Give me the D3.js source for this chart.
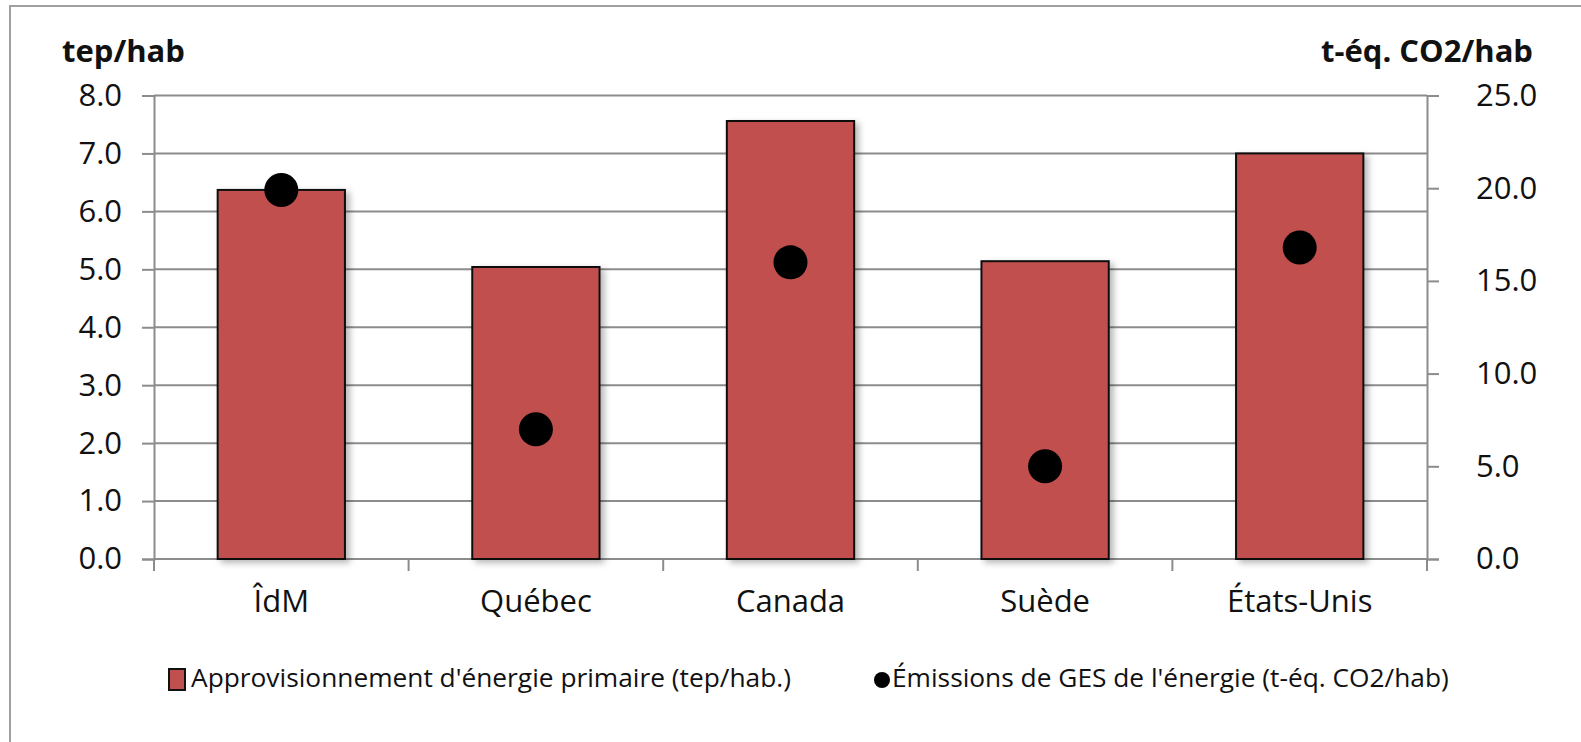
<!DOCTYPE html>
<html>
<head>
<meta charset="utf-8">
<script src="https://cdn.jsdelivr.net/npm/d3@7"></script>
<style>
  body { margin: 0; background: #fff; }
  text { font-family: "Open Sans", sans-serif; fill: #111; }
</style>
</head>
<body>
<script>
// values
const categories = ['ÎdM', 'Québec', 'Canada', 'Suède', 'États-Unis'];
const energy = [6.37, 5.04, 7.56, 5.14, 7.00];      // tep/hab (bars, left axis)
const emissions = [19.9, 7.0, 16.0, 5.0, 16.8];     // t-éq. CO2/hab (dots, right axis)
const leftTicks = [0, 1, 2, 3, 4, 5, 6, 7, 8];
const rightTicks = [0, 5, 10, 15, 20, 25];
const axisTitles = ['tep/hab', 't-éq. CO2/hab'];
const seriesNames = ["Approvisionnement d'énergie primaire (tep/hab.)", "Émissions de GES de l'énergie (t-éq. CO2/hab)"];

const W = 1581, H = 742;
const plot = {left: 154, right: 1427, top: 95.5, bottom: 559};
const grey = '#8c8c8c';

const svg = d3.select('body').append('svg').attr('width', W).attr('height', H);

const defs = svg.append('defs');
const f = defs.append('filter').attr('id', 'shadow').attr('x', '-10%').attr('y', '-10%').attr('width', '130%').attr('height', '130%');
f.append('feDropShadow').attr('dx', 4).attr('dy', 3).attr('stdDeviation', 3)
  .attr('flood-color', '#000').attr('flood-opacity', 0.28);

// outer chart border
svg.append('rect').attr('x', 10).attr('y', 6).attr('width', W + 20).attr('height', H + 20)
  .attr('fill', '#fff').attr('stroke', '#a0a0a0').attr('stroke-width', 2);

const xBand = d3.scaleBand().domain(categories).range([plot.left, plot.right]).paddingInner(0).paddingOuter(0);
const yL = d3.scaleLinear().domain([0, 8]).range([plot.bottom, plot.top]);
const yR = d3.scaleLinear().domain([0, 25]).range([plot.bottom, plot.top]);

// gridlines
svg.append('g').selectAll('line').data(leftTicks).enter().append('line')
  .attr('x1', plot.left).attr('x2', plot.right)
  .attr('y1', d => yL(d)).attr('y2', d => yL(d))
  .attr('stroke', grey).attr('stroke-width', 2);

// left axis
const gl = svg.append('g').attr('transform', `translate(${plot.left},0)`)
  .call(d3.axisLeft(yL).tickValues(leftTicks).tickFormat(d3.format('.1f')).tickSize(12).tickPadding(20));
gl.select('.domain').attr('stroke', grey).attr('stroke-width', 2);
gl.selectAll('.tick line').attr('stroke', grey).attr('stroke-width', 2);
gl.selectAll('.tick text').attr('font-size', 31).attr('font-family', '"Open Sans", sans-serif').attr('fill', '#111');

// right axis
const gr = svg.append('g').attr('transform', `translate(${plot.right},0)`)
  .call(d3.axisRight(yR).tickValues(rightTicks).tickFormat(d3.format('.1f')).tickSize(12).tickPadding(37));
gr.select('.domain').attr('stroke', grey).attr('stroke-width', 2);
gr.selectAll('.tick line').attr('stroke', grey).attr('stroke-width', 2);
gr.selectAll('.tick text').attr('font-size', 31).attr('font-family', '"Open Sans", sans-serif').attr('fill', '#111');

// bottom axis: labels in band centres, ticks at band edges
const gb = svg.append('g').attr('transform', `translate(0,${plot.bottom})`)
  .call(d3.axisBottom(xBand).tickSize(0).tickPadding(31));
gb.select('.domain').remove();
gb.selectAll('.tick text').attr('font-size', 31).attr('font-family', '"Open Sans", sans-serif').attr('fill', '#111');
const edges = categories.map(c => xBand(c)).concat([plot.right]);
svg.append('g').selectAll('line').data(edges).enter().append('line')
  .attr('x1', d => d).attr('x2', d => d)
  .attr('y1', plot.bottom).attr('y2', plot.bottom + 12)
  .attr('stroke', grey).attr('stroke-width', 2);

// bars
const bw = xBand.bandwidth();
svg.append('g').selectAll('rect').data(energy).enter().append('rect')
  .attr('x', (d, i) => xBand(categories[i]) + bw / 4)
  .attr('y', d => yL(d))
  .attr('width', bw / 2)
  .attr('height', d => yL(0) - yL(d))
  .attr('fill', '#c0504d').attr('stroke', '#111').attr('stroke-width', 2)
  .attr('filter', 'url(#shadow)');

// dots
svg.append('g').selectAll('circle').data(emissions).enter().append('circle')
  .attr('cx', (d, i) => xBand(categories[i]) + bw / 2)
  .attr('cy', d => yR(d))
  .attr('r', 17)
  .attr('fill', '#000');

// axis titles
svg.append('text').attr('x', 62).attr('y', 62).attr('font-size', 31).attr('font-weight', 'bold').text(axisTitles[0]);
svg.append('text').attr('x', 1533).attr('y', 62).attr('font-size', 31).attr('font-weight', 'bold')
  .attr('text-anchor', 'end').text(axisTitles[1]);

// legend
const ly = 680;
svg.append('rect').attr('x', 169).attr('y', ly - 11).attr('width', 16).attr('height', 21)
  .attr('fill', '#c0504d').attr('stroke', '#111').attr('stroke-width', 2);
svg.append('text').attr('x', 191).attr('y', ly).attr('dominant-baseline', 'middle')
  .attr('font-size', 26.3).text(seriesNames[0]);
svg.append('circle').attr('cx', 882).attr('cy', ly).attr('r', 8).attr('fill', '#000');
svg.append('text').attr('x', 892).attr('y', ly).attr('dominant-baseline', 'middle')
  .attr('font-size', 26.3).text(seriesNames[1]);
</script>
</body>
</html>
